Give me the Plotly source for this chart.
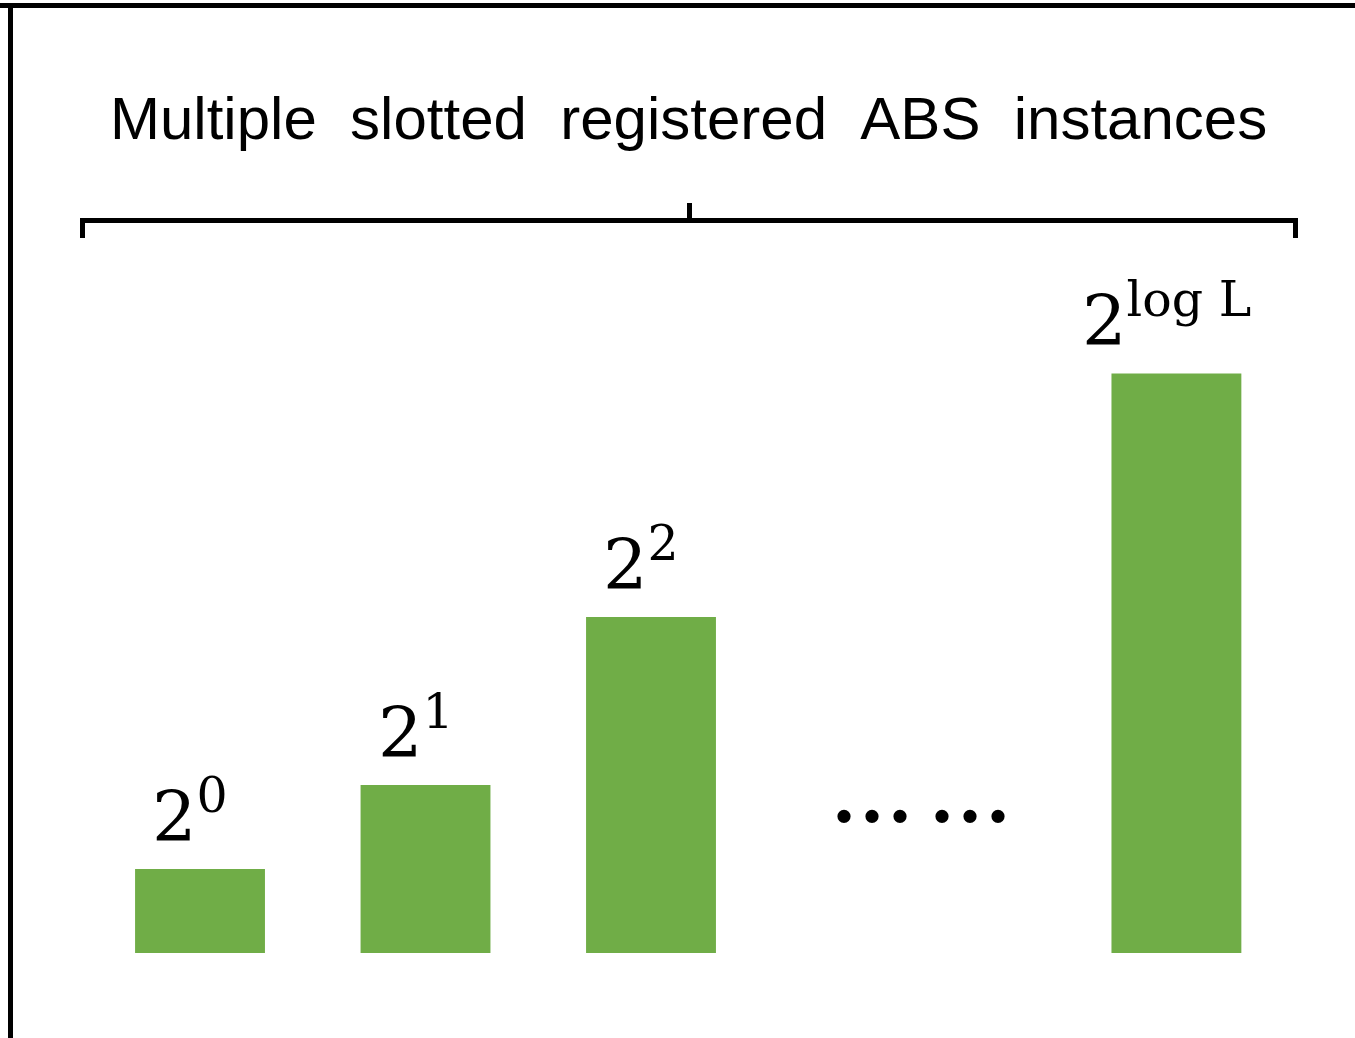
import plotly.graph_objects as go

# ---- data ----
categories_x = [0, 1, 2, 4.33]          # slot positions of the instances
bar_values = [1, 2, 4, 6.9]             # relative instance sizes
bar_labels = ["2<sup>0</sup>", "2<sup>1</sup>", "2<sup>2</sup>", "2<sup>log L</sup>"]
title_words = ["Multiple", "slotted", "registered", "ABS", "instances"]
ellipsis_x = [2.98, 3.415]
ellipsis_text = "..."

W, H = 1355, 1038
GREEN = "#70AD47"


def px(x):
    return x / W


def py(y):
    return 1 - y / H


fig = go.Figure()
fig.add_trace(go.Bar(
    x=categories_x, y=bar_values, width=0.576,
    marker=dict(color=GREEN, line=dict(width=0)),
    hoverinfo="skip",
))

annotations = [dict(
    x=px(688), y=py(118), xref="paper", yref="paper",
    text="\u00a0\u00a0".join(title_words), showarrow=False,
    xanchor="center", yanchor="middle",
    font=dict(family="Liberation Sans", size=60, color="black"),
)]
for bx, bv, lab in zip(categories_x, bar_values, bar_labels):
    annotations.append(dict(
        x=bx, y=bv, xref="x", yref="y", text=lab, showarrow=False,
        xanchor="center", yanchor="bottom", yshift=9, xshift=-10,
        font=dict(family="DejaVu Serif", size=70, color="black"),
    ))
for ex in ellipsis_x:
    annotations.append(dict(
        x=ex, y=2.02, xref="x", yref="y", text=ellipsis_text, showarrow=False,
        xanchor="center", yanchor="middle",
        font=dict(family="Liberation Serif", size=112, color="black"),
    ))

hy = py(220.5)
bracket_path = (f"M {px(82.5)} {py(238)} L {px(82.5)} {hy} "
                f"L {px(1295.5)} {hy} L {px(1295.5)} {py(238)}")
shapes = [
    dict(type="line", xref="paper", yref="paper", x0=0, x1=1, y0=py(5.5), y1=py(5.5),
         line=dict(color="black", width=5)),
    dict(type="line", xref="paper", yref="paper", x0=px(10.5), x1=px(10.5), y0=0, y1=py(3),
         line=dict(color="black", width=5)),
    dict(type="path", xref="paper", yref="paper", path=bracket_path,
         line=dict(color="black", width=5)),
    dict(type="line", xref="paper", yref="paper", x0=px(689.5), x1=px(689.5), y0=hy, y1=py(203),
         line=dict(color="black", width=5)),
]

fig.update_layout(
    width=W, height=H, margin=dict(l=0, r=0, t=0, b=0),
    paper_bgcolor="white", plot_bgcolor="white", showlegend=False,
    xaxis=dict(range=[-0.887, 5.122], visible=False, fixedrange=True),
    yaxis=dict(range=[-1.012, 11.345], visible=False, fixedrange=True),
    annotations=annotations, shapes=shapes,
)

fig.write_html("out.html", config={"displayModeBar": False},
               post_script="document.body.style.margin='0';")
